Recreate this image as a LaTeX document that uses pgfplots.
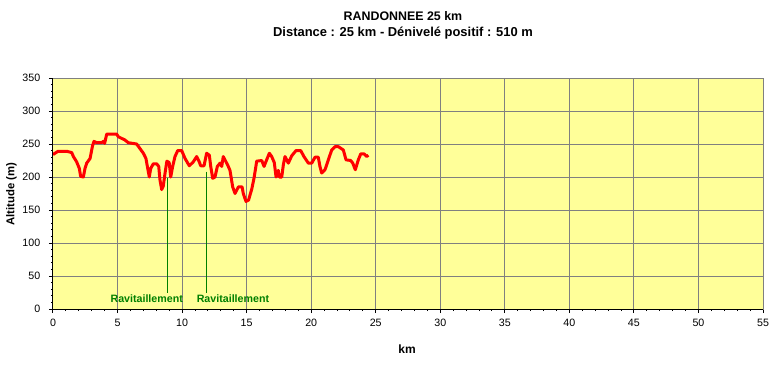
\documentclass[border=0pt]{standalone}
\usepackage{pgfplots}
\pgfplotsset{compat=1.18}
\usepackage{fontspec}
\setmainfont{Liberation Sans}
\definecolor{bgyellow}{RGB}{255,255,153}
\definecolor{gridgray}{RGB}{128,128,128}
\definecolor{ravgreen}{RGB}{0,128,0}
\begin{document}
\begin{tikzpicture}[x=0.75pt,y=0.75pt]
\path[use as bounding box] (-53,-56) rectangle (720,309);
\begin{axis}[
  at={(0,0)}, anchor=south west,
  scale only axis,
  width=532.5pt, height=173.25pt,
  xmin=0, xmax=55, ymin=0, ymax=350,
  xtick={0,5,...,55}, ytick={0,50,...,350},
  minor x tick num=4, minor y tick num=4,
  xtick pos=left, ytick pos=left,
  tick align=outside,
  major tick length=3pt, minor tick length=1.5pt,
  every tick/.style={black, line width=0.75pt},
  grid=major,
  major grid style={gridgray, line width=0.75pt},
  minor grid style={draw=none},
  axis background/.style={fill=bgyellow},
  axis line style={gridgray, line width=0.75pt},
  tick label style={font=\fontsize{8}{9.6}\selectfont},
  /pgf/number format/assume math mode=true,
  yticklabel style={xshift=-3pt},
  xticklabel style={yshift=-1pt},
  clip=false,
]
\addplot[red, line width=2.25pt, line join=round] coordinates {
(0.0,234) (0.15,236) (0.4,239) (1.06,239) (1.45,237) (1.58,231) (1.83,223)
(2.04,213) (2.14,201) (2.35,200) (2.48,213) (2.61,221) (2.87,228) (3.07,248)
(3.18,254) (3.38,252) (3.77,252) (3.9,254) (4.0,251) (4.16,265) (4.93,265)
(5.06,261) (5.58,256) (5.83,252) (6.48,250) (6.74,243) (7.0,236) (7.2,228)
(7.31,216) (7.46,200) (7.57,213) (7.77,220) (8.03,220) (8.19,216) (8.29,195)
(8.42,181) (8.54,186) (8.68,206) (8.82,224) (9.0,222) (9.12,200) (9.27,216)
(9.45,231) (9.66,240) (9.97,240) (10.23,228) (10.56,217) (10.87,223) (11.13,231)
(11.33,223) (11.44,217) (11.7,217) (11.9,236) (12.11,233) (12.22,216) (12.37,198)
(12.55,200) (12.73,216) (12.94,221) (13.07,216) (13.19,231) (13.4,223) (13.58,216)
(13.71,210) (13.92,185) (14.1,175) (14.36,185) (14.65,185) (14.74,175) (14.95,163)
(15.15,165) (15.4,182) (15.57,198) (15.78,224) (16.17,225) (16.35,216) (16.55,226)
(16.76,236) (16.94,231) (17.14,222) (17.28,200) (17.45,210) (17.53,200) (17.72,200)
(17.84,218) (17.97,231) (18.23,221) (18.49,232) (18.82,240) (19.19,240) (19.44,231)
(19.78,221) (20.04,221) (20.3,230) (20.55,230) (20.68,216) (20.81,206) (21.07,211)
(21.33,226) (21.59,241) (21.85,246) (22.1,246) (22.49,241) (22.7,226) (23.06,225)
(23.22,221) (23.42,211) (23.65,226) (23.84,235) (24.1,235) (24.3,231) (24.43,233)
};
\addplot[ravgreen, line width=0.75pt] coordinates {(8.86,198) (8.86,24)};
\addplot[ravgreen, line width=0.75pt] coordinates {(11.9,208) (11.9,24)};
\node[anchor=base, text=ravgreen, font=\fontsize{8}{9.6}\selectfont\bfseries, inner sep=0pt] at (axis cs:7.26,9.5) {Ravitaillement};
\node[anchor=base, text=ravgreen, font=\fontsize{8}{9.6}\selectfont\bfseries, inner sep=0pt] at (axis cs:13.94,9.5) {Ravitaillement};
\draw[black, line width=0.75pt] (rel axis cs:0,1) -- (rel axis cs:0,0) -- (rel axis cs:1,0);
\end{axis}
\node[anchor=base, font=\fontsize{9.3}{11}\selectfont\bfseries, inner sep=0pt] at (350,288) {RANDONNEE 25 km};
\node[anchor=base, font=\fontsize{9.7}{11.5}\selectfont\bfseries, inner sep=0pt] at (350,272.3) {Distance : 25 km - Dénivelé positif : 510 m};
\node[anchor=base, font=\fontsize{9}{10.8}\selectfont\bfseries, inner sep=0pt] at (354,-44.3) {km};
\node[rotate=90, font=\fontsize{8.5}{10}\selectfont\bfseries, inner sep=0pt] at (-41.5,115) {Altitude (m)};
\end{tikzpicture}
\end{document}
